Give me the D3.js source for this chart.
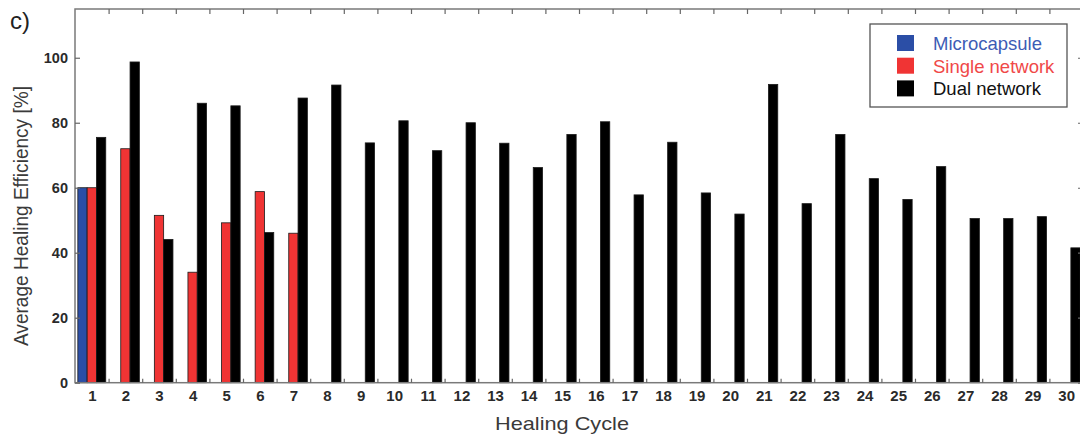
<!DOCTYPE html>
<html>
<head>
<meta charset="utf-8">
<script src="https://cdn.jsdelivr.net/npm/d3@7"></script>
<style>
  body { margin: 0; background: #fff; }
  svg { display: block; font-family: "Liberation Sans", Arial, sans-serif; }
</style>
</head>
<body>
<div id="chart"></div>
<script>
// healing cycles on the x axis
const cycles = [1, 2, 3, 4, 5, 6, 7, 8, 9, 10, 11, 12, 13, 14, 15,
  16, 17, 18, 19, 20, 21, 22, 23, 24, 25, 26, 27, 28, 29, 30];

// average healing efficiency [%] per series
const microcapsule = [60];
const singleNetwork = [60, 72, 51.5, 34, 49.2, 58.8, 46];
const dualNetwork = [75.5, 98.7, 44.1, 86, 85.2, 46.2, 87.6, 91.6, 73.8, 80.6,
  71.4, 80, 73.7, 66.2, 76.4, 80.3, 57.8, 74, 58.4, 51.9,
  91.8, 55.1, 76.4, 62.8, 56.4, 66.5, 50.5, 50.5, 51.1, 41.5];

const yTicks = [0, 20, 40, 60, 80, 100];
const seriesNames = ["Microcapsule", "Single network", "Dual network"];
const seriesColors = ["#2b4ea6", "#f03434", "#000000"];
const legendText = ["#3d5cb5", "#f04848", "#111111"];

const width = 1080, height = 440;
const plotL = 75, plotR = 1083, plotT = 9, plotB = 382.7;

const svg = d3.select("#chart").append("svg")
  .attr("width", width)
  .attr("height", height);

const x = d3.scaleLinear().domain([0.5, 30.5]).range([plotL, plotR]);
const y = d3.scaleLinear().domain([0, 115]).range([plotB, plotT]);
const barW = x(0.277) - x(0);

// bars: three series side by side, black always on the right
const series = [microcapsule, singleNetwork, dualNetwork];
series.forEach((vals, s) => {
  svg.append("g").selectAll("rect")
    .data(vals.map((v, i) => ({ c: cycles[i], v: v })))
    .enter()
    .append("rect")
    .attr("x", d => x(d.c) + (s - 1) * barW - barW / 2)
    .attr("y", d => y(d.v))
    .attr("width", barW)
    .attr("height", d => y(0) - y(d.v))
    .attr("fill", seriesColors[s])
    .attr("stroke", "#1a1a1a")
    .attr("stroke-width", 0.8);
});

// frame
svg.append("rect")
  .attr("x", plotL).attr("y", plotT)
  .attr("width", plotR - plotL).attr("height", plotB - plotT)
  .attr("fill", "none")
  .attr("stroke", "#7a7a7a")
  .attr("stroke-width", 1.5);

const halfTicks = cycles.slice(0, 29).map(c => c + 0.5);

// tick marks, inward on all four sides
const tickStyle = g => {
  g.select(".domain").remove();
  g.selectAll("line").attr("stroke", "#666").attr("stroke-width", 1.2);
};
svg.append("g").attr("transform", `translate(0,${plotB})`)
  .call(d3.axisBottom(x).tickValues(halfTicks).tickSize(-4).tickFormat(""))
  .call(tickStyle);
svg.append("g").attr("transform", `translate(0,${plotT})`)
  .call(d3.axisTop(x).tickValues(halfTicks).tickSize(-5).tickFormat(""))
  .call(tickStyle);
svg.append("g").attr("transform", `translate(${plotR},0)`)
  .call(d3.axisRight(y).tickValues(yTicks).tickSize(-5).tickFormat(""))
  .call(tickStyle);

// y axis with labels
svg.append("g").attr("transform", `translate(${plotL},0)`)
  .call(d3.axisLeft(y).tickValues(yTicks).tickSize(-5).tickPadding(7))
  .call(tickStyle)
  .call(g => g.selectAll("text")
    .attr("font-size", "14.5px")
    .attr("font-weight", "bold")
    .attr("fill", "#2a2a2a")
    .attr("font-family", "Liberation Sans, Arial, sans-serif"));

// x labels at each cycle
svg.append("g").attr("transform", `translate(0,${plotB})`)
  .call(d3.axisBottom(x).tickValues(cycles).tickSize(0).tickPadding(8))
  .call(g => g.select(".domain").remove())
  .call(g => g.selectAll("text")
    .attr("font-size", "15px")
    .attr("font-weight", "bold")
    .attr("fill", "#2a2a2a")
    .attr("font-family", "Liberation Sans, Arial, sans-serif"));

// axis titles (the source lettering is a little wider than Arial)
svg.append("text")
  .attr("x", 562).attr("y", 430)
  .attr("text-anchor", "middle")
  .attr("font-size", "19px")
  .attr("fill", "#3a3a3a")
  .attr("textLength", 134)
  .attr("lengthAdjust", "spacingAndGlyphs")
  .text("Healing Cycle");

svg.append("text")
  .attr("transform", "translate(28,216) rotate(-90)")
  .attr("text-anchor", "middle")
  .attr("font-size", "19.5px")
  .attr("fill", "#3a3a3a")
  .attr("textLength", 260)
  .attr("lengthAdjust", "spacingAndGlyphs")
  .text("Average Healing Efficiency [%]");

// panel letter
svg.append("text")
  .attr("x", 10).attr("y", 29)
  .attr("font-size", "24px")
  .attr("fill", "#222")
  .text("c)");

// legend
const legend = svg.append("g").attr("transform", "translate(870,24)");
legend.append("rect")
  .attr("width", 197).attr("height", 83)
  .attr("fill", "#fff")
  .attr("stroke", "#555")
  .attr("stroke-width", 1.3);
const rows = legend.selectAll("g.row")
  .data(seriesNames)
  .enter()
  .append("g")
  .attr("class", "row")
  .attr("transform", (d, i) => `translate(0,${19.5 + i * 22.7})`);
rows.append("rect")
  .attr("x", 27).attr("y", -8.5)
  .attr("width", 17).attr("height", 16)
  .attr("fill", (d, i) => seriesColors[i]);
rows.append("text")
  .attr("x", 63).attr("y", 6.5)
  .attr("font-size", "18.5px")
  .attr("fill", (d, i) => legendText[i])
  .text(d => d);
</script>
</body>
</html>
